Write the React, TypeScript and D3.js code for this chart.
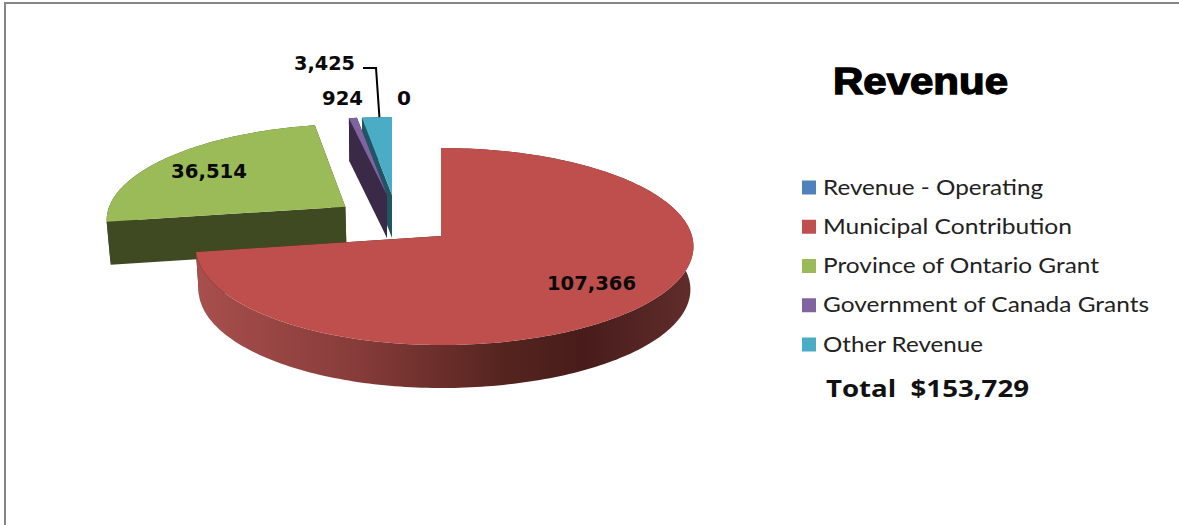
import * as d3 from 'd3';

const categories = [
	'Revenue - Operating',
	'Municipal Contribution',
	'Province of Ontario Grant',
	'Government of Canada Grants',
	'Other Revenue',
];
const revenueValues = [0, 107366, 36514, 924, 3425];
const valueLabels = ['0', '107,366', '36,514', '924', '3,425'];
const chartTitle = 'Revenue';
const totalLabel = 'Total  $153,729';

const WIDTH = 1179;
const HEIGHT = 525;

// legend / slice colours, same order as categories
const legendColors = ['#4f81bd', '#c0504d', '#9bbb59', '#8064a2', '#4bacc6'];
const topColors = ['#4f81bd', '#be4f4c', '#9bbb59', '#8064a2', '#4bacc6'];
const sideColors = ['#2b4566', '#3a1514', '#3f4a23', '#3a2a48', '#205663'];

// Excel exploded the slices by hand, so the offsets and radii are per slice:
// the green one moves in the pie plane, the two slivers are shifted on screen
const sliceOffsets = [[0, 0], [0, 0], [-0.405, -0.31], [0, 0], [0, 0]];
const sliceShifts = [[0, 0], [0, 0], [0, 0], [-54, -41], [-49, -41]];
const sliceRadii = [[1, 1], [1, 1], [1, 1], [0.93, 0.875], [0.93, 0.875]];

// [x, baseline, stretched width] of each value label
const labelLayout = [
	[397, 105, 14],
	[547, 290, 89],
	[171, 178, 76],
	[322, 105, 41],
	[294, 70, 61],
];
const legendWidths = [220, 249, 276, 326, 160];
const legendY = d3.scaleLinear().domain([0, 4]).range([187.5, 344.5]);

// perspective projection of the pie plane onto the screen
const cx = 441;
const cy = 236;
const kxLeft = 244;
const kxRight = 251;
const ky = 97.4;
const persp = 0.1066;
const depth = 43;

function project(X: number, Y: number, z = 0): [number, number] {
	const w = 1 - persp * Y;
	const kx = X < 0 ? kxLeft : kxRight;
	return [cx + ((kx * X) / w) * (1 - 0.012 * z), cy + (ky * Y) / w + depth * z];
}

const pieLayout = d3.pie<number>().sort(null).value((d) => d).startAngle(0).endAngle(2 * Math.PI);
const arcs = pieLayout(revenueValues);
const pathLine = d3.line();

function pointOnSlice(i: number, angle: number, r: number, z = 0): [number, number] {
	const [ox, oy] = sliceOffsets[i];
	const [sx, sy] = sliceShifts[i];
	const [rx, ry] = sliceRadii[i];
	const [x, y] = project(ox + r * rx * Math.sin(angle), oy - r * ry * Math.cos(angle), z);
	return [x + sx, y + sy];
}

function angleSteps(a0: number, a1: number) {
	const n = Math.max(2, Math.ceil((a1 - a0) / 0.02));
	return d3.range(n + 1).map((k) => a0 + ((a1 - a0) * k) / n);
}

function topPath(i: number) {
	const { startAngle, endAngle } = arcs[i];
	const pts = angleSteps(startAngle, endAngle).map((a) => pointOnSlice(i, a, 1));
	return pathLine([pointOnSlice(i, 0, 0), ...pts]) + 'Z';
}

function bandPath(i: number) {
	const { startAngle, endAngle } = arcs[i];
	const steps = angleSteps(startAngle, endAngle);
	const upper = steps.map((a) => pointOnSlice(i, a, 1));
	const lower = steps.slice().reverse().map((a) => pointOnSlice(i, a, 1, 1));
	return pathLine([...upper, ...lower]) + 'Z';
}

function cutPath(i: number, angle: number) {
	return (
		pathLine([
			pointOnSlice(i, angle, 0),
			pointOnSlice(i, angle, 1),
			pointOnSlice(i, angle, 1, 1),
			pointOnSlice(i, angle, 0, 1),
		]) + 'Z'
	);
}

// painter's order: slices at the back first, the big red one last
const drawOrder = [4, 3, 2, 1];

export default function App() {
	const teal = arcs[4];
	const leaderEnd = pointOnSlice(4, (teal.startAngle + teal.endAngle) / 2 + 0.012, 1);

	return (
		<svg
			width={WIDTH}
			height={HEIGHT}
			viewBox={`0 0 ${WIDTH} ${HEIGHT}`}
			style={{ position: 'fixed', left: 0, top: 0, background: '#fff' }}
		>
			<defs>
				<linearGradient id="redSide" gradientUnits="userSpaceOnUse" x1={197} x2={693} y1={0} y2={0}>
					<stop offset="0" stopColor="#a84f4d" />
					<stop offset="0.32" stopColor="#873c3a" />
					<stop offset="0.62" stopColor="#55241f" />
					<stop offset="0.78" stopColor="#481c1b" />
					<stop offset="1" stopColor="#602d2b" />
				</linearGradient>
			</defs>

			{/* frame of the cropped page */}
			<path d={`M5,${HEIGHT}V3H${WIDTH}`} fill="none" stroke="#868686" strokeWidth={2} />

			{drawOrder.map((i) => (
				<g key={categories[i]}>
					<path d={cutPath(i, arcs[i].startAngle)} fill={sideColors[i]} />
					<path d={cutPath(i, arcs[i].endAngle)} fill={sideColors[i]} />
					<path d={bandPath(i)} fill={i === 1 ? 'url(#redSide)' : sideColors[i]} />
				</g>
			))}
			{drawOrder.map((i) => (
				<path key={categories[i]} d={topPath(i)} fill={topColors[i]} />
			))}

			{/* leader line for the 3,425 label */}
			<path
				d={`M363,68H376L${leaderEnd[0]},${leaderEnd[1]}`}
				fill="none"
				stroke="#000"
				strokeWidth={2}
			/>

			{valueLabels.map((label, i) => (
				<text
					key={categories[i]}
					x={labelLayout[i][0]}
					y={labelLayout[i][1]}
					textLength={labelLayout[i][2]}
					lengthAdjust="spacingAndGlyphs"
					fontFamily="'DejaVu Sans'"
					fontWeight="bold"
					fontSize={20}
					fill="#0a0a0a"
				>
					{label}
				</text>
			))}

			<text
				x={833}
				y={94}
				textLength={175}
				lengthAdjust="spacingAndGlyphs"
				fontFamily="'Liberation Sans'"
				fontWeight="bold"
				fontSize={36}
				stroke="#000"
				strokeWidth={1.3}
			>
				{chartTitle}
			</text>

			{categories.map((name, i) => (
				<g key={name}>
					<rect x={802} y={legendY(i) - 7} width={14} height={14} fill={legendColors[i]} />
					<text
						x={823}
						y={legendY(i) + 7}
						textLength={legendWidths[i]}
						lengthAdjust="spacingAndGlyphs"
						fontFamily="Lato"
						fontSize={22}
						fill="#222"
					>
						{name}
					</text>
				</g>
			))}

			<text
				x={826}
				y={397}
				textLength={203}
				lengthAdjust="spacingAndGlyphs"
				fontFamily="'Open Sans'"
				fontWeight="bold"
				fontSize={24}
				fill="#111"
				style={{ whiteSpace: 'pre' }}
			>
				{totalLabel}
			</text>
		</svg>
	);
}
